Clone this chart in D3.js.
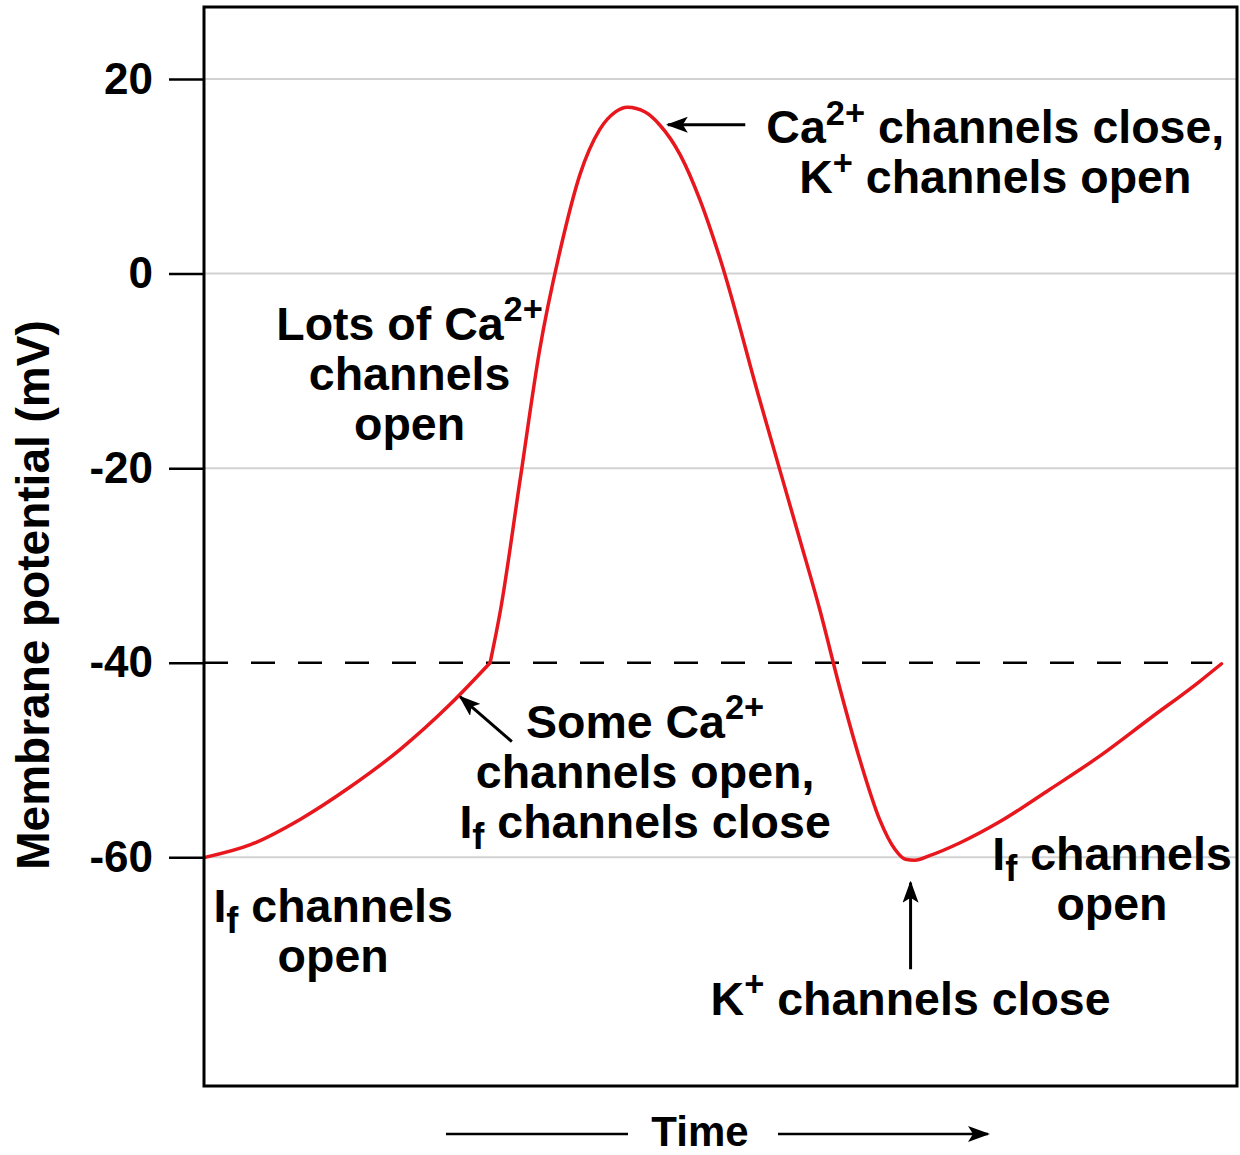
<!DOCTYPE html>
<html>
<head>
<meta charset="utf-8">
<script src="https://cdn.jsdelivr.net/npm/d3@7"></script>
<style>
body { margin: 0; background: #fff; }
text { font-family: "Liberation Sans", Arial, Helvetica, sans-serif; font-weight: bold; fill: #000; }
</style>
</head>
<body>
<svg width="1240" height="1155"></svg>
<script>
// pacemaker action potential, time in arbitrary units, potential in mV
var times = [0.1, 4.5, 9.3, 14.1, 19.0, 23.8, 27.7, 28.7, 30.6, 32.5, 34.5, 36.4, 38.3, 39.8, 41.0,
    42.7, 44.1, 46.1, 48.0, 50.0, 53.8, 57.7, 59.6, 61.6, 63.5, 65.4, 66.9, 67.9, 68.8, 70.3,
    73.2, 77.1, 81.9, 86.7, 91.6, 96.4, 98.5];
var potentials = [-60, -58.7, -56.1, -52.8, -48.9, -44.3, -40, -34.6, -21.2, -7.8, 2.5, 10.2, 14.8, 16.6, 17.1,
    16.6, 15.3, 12.2, 7.6, 1.4, -13.0, -27.4, -34.5, -42.8, -50.0, -56.1, -59.2, -60.2, -60.3, -59.8,
    -58.5, -56.3, -53.0, -49.6, -45.7, -41.9, -40.1];
var kinkIndex = 6; // threshold reached, sharp upstroke starts

var yTicks = [20, 0, -20, -40, -60];
var threshold = -40;
var thresholdEnd = 97.6;

// annotation blocks: anchor (t, v) of first baseline, lines with ^{sup} and _{sub}
var noteTimes = [76.6, 19.9, 42.7, 12.5, 87.9, 68.4];
var noteVolts = [13.4, -6.8, -47.7, -66.6, -61.3, -76.2];
var noteLines = [
    ["Ca^{2+} channels close,", "K^{+} channels open"],
    ["Lots of Ca^{2+}", "channels", "open"],
    ["Some Ca^{2+}", "channels open,", "I_{f} channels close"],
    ["I_{f} channels", "open"],
    ["I_{f} channels", "open"],
    ["K^{+} channels close"]
];

// arrows: from (t, v) to (t, v)
var arrowFrom = [[52.4, 15.3], [29.8, -48.1], [68.4, -71.5]];
var arrowTo = [[44.9, 15.3], [24.8, -43.5], [68.4, -62.6]];

var svg = d3.select("svg"),
    margin = { top: 7, right: 3, bottom: 69, left: 204 },
    width = +svg.attr("width") - margin.left - margin.right,
    height = +svg.attr("height") - margin.top - margin.bottom;

var x = d3.scaleLinear().domain([0, 100]).range([0, width]),
    y = d3.scaleLinear().domain([-83.5, 27.4]).range([height, 0]);

var fs = 46.5, lineH = 50;

var defs = svg.append("defs");
defs.append("marker")
    .attr("id", "head")
    .attr("viewBox", "0 -8 22 16")
    .attr("refX", 20)
    .attr("refY", 0)
    .attr("markerUnits", "userSpaceOnUse")
    .attr("markerWidth", 22)
    .attr("markerHeight", 16)
    .attr("orient", "auto")
    .append("path")
    .attr("d", "M0,-8L22,0L0,8L5,0Z")
    .attr("fill", "#000");

var g = svg.append("g")
    .attr("transform", "translate(" + margin.left + "," + margin.top + ")");

// grid lines (threshold is drawn dashed instead)
g.append("g")
    .selectAll("line")
    .data(yTicks.filter(function(d) { return d !== threshold; }))
    .enter().append("line")
    .attr("x1", 0)
    .attr("x2", width)
    .attr("y1", function(d) { return y(d); })
    .attr("y2", function(d) { return y(d); })
    .attr("stroke", "#d2d2d2")
    .attr("stroke-width", 2);

g.append("line")
    .attr("x1", x(0))
    .attr("x2", x(thresholdEnd))
    .attr("y1", y(threshold))
    .attr("y2", y(threshold))
    .attr("stroke", "#000")
    .attr("stroke-width", 2.5)
    .attr("stroke-dasharray", "24,23");

var yAxis = d3.axisLeft(y)
    .tickValues(yTicks)
    .tickSize(35)
    .tickPadding(16)
    .tickFormat(function(d) { return String(d); });

var ax = g.append("g").attr("class", "axis axis--y").call(yAxis);
ax.select(".domain").remove();
ax.selectAll(".tick line").attr("stroke", "#000").attr("stroke-width", 2.5);
ax.selectAll(".tick text")
    .attr("font-size", 44)
    .attr("font-family", null)
    .style("font-family", "'Liberation Sans', Arial, sans-serif")
    .style("font-weight", "bold");

var line = d3.line()
    .curve(d3.curveMonotoneX)
    .x(function(d) { return x(times[d]); })
    .y(function(d) { return y(potentials[d]); });

// two pieces so the threshold corner stays sharp
var pieces = [d3.range(0, kinkIndex + 1), d3.range(kinkIndex, potentials.length)];
g.selectAll(".ap")
    .data(pieces)
    .enter().append("path")
    .attr("class", "ap")
    .attr("fill", "none")
    .attr("stroke", "#e8171e")
    .attr("stroke-width", 3.5)
    .attr("stroke-linejoin", "round")
    .attr("stroke-linecap", "round")
    .attr("d", line);

// frame
g.append("rect")
    .attr("width", width)
    .attr("height", height)
    .attr("fill", "none")
    .attr("stroke", "#000")
    .attr("stroke-width", 3);

function richText(textSel, str, size) {
    var parts = str.split(/(\^\{[^}]*\}|_\{[^}]*\})/);
    var offset = 0;
    parts.forEach(function(p) {
        if (!p) return;
        var target = 0, sz = size, txt = p;
        if (p[0] === "^") { target = -0.4 * size; sz = 0.74 * size; txt = p.slice(2, -1); }
        else if (p[0] === "_") { target = 0.24 * size; sz = 0.78 * size; txt = p.slice(2, -1); }
        textSel.append("tspan")
            .attr("dy", target - offset)
            .attr("font-size", sz)
            .text(txt);
        offset = target;
    });
}

noteLines.forEach(function(lines, k) {
    var t = g.append("g").attr("class", "note");
    lines.forEach(function(s, j) {
        var tx = t.append("text")
            .attr("x", x(noteTimes[k]))
            .attr("y", y(noteVolts[k]) + j * lineH)
            .attr("text-anchor", "middle")
            .attr("font-size", fs);
        richText(tx, s, fs);
    });
});

g.append("g")
    .selectAll("line")
    .data(arrowFrom)
    .enter().append("line")
    .attr("x1", function(d) { return x(d[0]); })
    .attr("y1", function(d) { return y(d[1]); })
    .attr("x2", function(d, i) { return x(arrowTo[i][0]); })
    .attr("y2", function(d, i) { return y(arrowTo[i][1]); })
    .attr("stroke", "#000")
    .attr("stroke-width", 3)
    .attr("marker-end", "url(#head)");

// y axis title
svg.append("text")
    .attr("transform", "translate(49,595) rotate(-90)")
    .attr("text-anchor", "middle")
    .attr("font-size", 46)
    .text("Membrane potential (mV)");

// time axis label with arrow
var ty = 1134;
svg.append("line")
    .attr("x1", 446).attr("x2", 628)
    .attr("y1", ty).attr("y2", ty)
    .attr("stroke", "#000").attr("stroke-width", 2.5);
svg.append("text")
    .attr("x", 700).attr("y", ty + 12)
    .attr("text-anchor", "middle")
    .attr("font-size", 42)
    .text("Time");
svg.append("line")
    .attr("x1", 778).attr("x2", 988)
    .attr("y1", ty).attr("y2", ty)
    .attr("stroke", "#000").attr("stroke-width", 2.5)
    .attr("marker-end", "url(#head)");
</script>
</body>
</html>
